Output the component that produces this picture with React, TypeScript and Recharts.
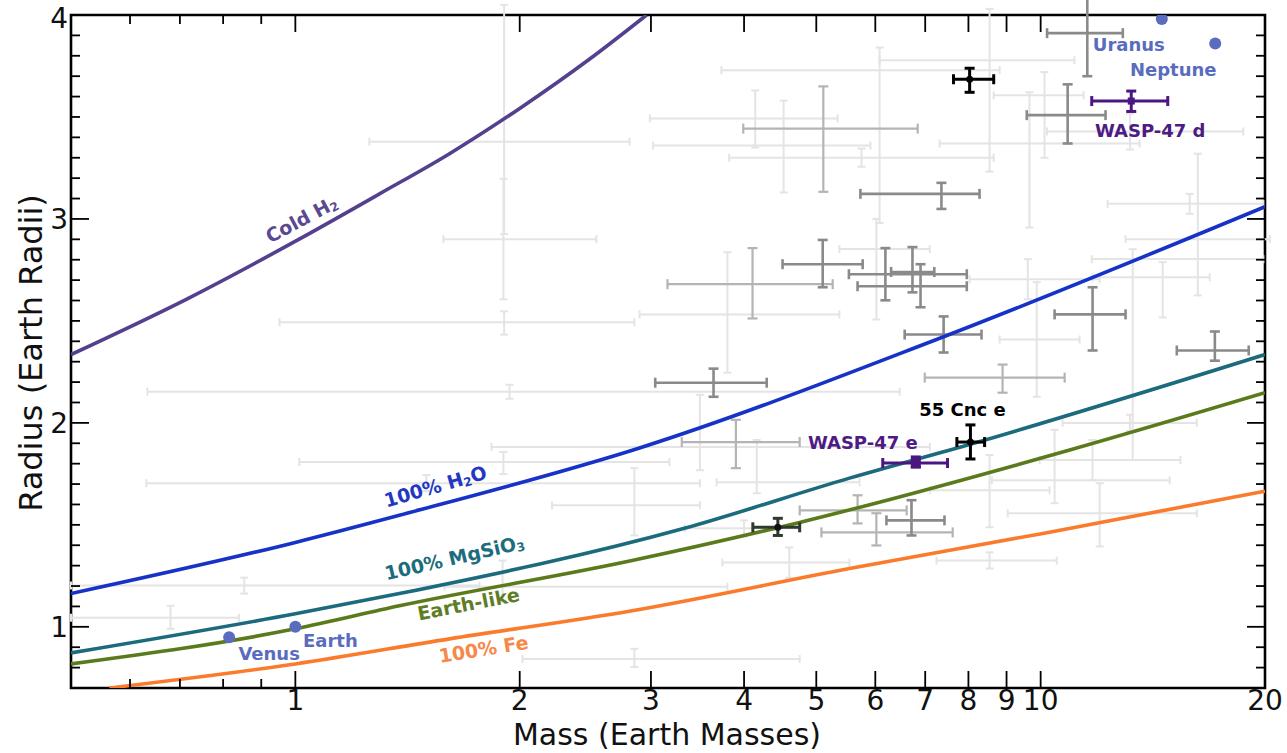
import React from 'react';
import { ComposedChart, Line, Scatter, ErrorBar, XAxis, YAxis, ReferenceArea } from 'recharts';

const W = 1287;
const H = 753;
const PLOT = { left: 71, top: 15, right: 1265, bottom: 688 };
const FONT = '"DejaVu Sans", sans-serif';

// axis ticks
const xLabelTicks = [1, 2, 3, 4, 5, 6, 7, 8, 9, 10, 20];
const xMinorTicks = [0.6, 0.7, 0.8, 0.9];
const yLabelTicks = [1, 2, 3, 4];
const yMinorTicks = [0.8, 0.9, 1.1, 1.2, 1.3, 1.4, 1.5, 1.6, 1.7, 1.8, 1.9, 2.1, 2.2, 2.3, 2.4, 2.5, 2.6, 2.7, 2.8, 2.9, 3.1, 3.2, 3.3, 3.4, 3.5, 3.6, 3.7, 3.8, 3.9];

// composition curves, mass (Earth masses) vs radius (Earth radii)
const coldH2Mass = [0.5, 0.714, 1.012, 1.297, 1.61, 2.0, 2.48, 2.96];
const coldH2Radius = [2.335, 2.606, 2.901, 3.123, 3.32, 3.542, 3.783, 4.0];
const waterMass = [0.5, 1.0, 1.379, 2.896, 7.25, 20];
const waterRadius = [1.163, 1.414, 1.547, 1.877, 2.409, 3.06];
const silicateMass = [0.5, 1.0, 1.379, 3.327, 5.54, 8.13, 20];
const silicateRadius = [0.872, 1.064, 1.163, 1.483, 1.729, 1.9, 2.335];
const earthLikeMass = [0.5, 1.0, 1.379, 2.83, 4.748, 10.94, 20];
const earthLikeRadius = [0.818, 0.99, 1.103, 1.325, 1.512, 1.867, 2.148];
const ironMass = [0.563, 1.0, 1.61, 2.83, 5.54, 10.07, 20];
const ironRadius = [0.7, 0.818, 0.941, 1.079, 1.286, 1.458, 1.665];

// background planets, faint
const faintMass = [1.902, 1.906, 1.906, 1.938, 3.49, 1.902, 2.85, 4.6, 0.68, 1.897, 1.499, 0.854, 2.85, 4.14, 4.52, 6.08, 8.54, 9.66, 14.58, 16.25, 15.85, 13.29, 9.61, 9.88, 13.18, 10.44, 8.54, 12.0, 11.74, 8.54, 3.8, 6.02, 4.16, 4.0, 13.18, 10.12, 5.75];
const faintMassLo = [1.58, 1.257, 0.952, 0.633, 1.833, 1.012, 2.21, 3.74, 0.5, 1.586, 0.631, 0.5, 2.017, 2.99, 3.02, 3.73, 6.08, 7.32, 11.74, 13.0, 12.3, 11.71, 8.03, 8.81, 10.7, 8.6, 7.1, 9.03, 9.97, 7.25, 2.896, 5.37, 3.674, 3.33, 10.2, 8.65, 3.82];
const faintMassHi = [2.535, 2.808, 2.85, 6.47, 7.1, 3.177, 3.49, 5.54, 0.84, 3.8, 3.49, 1.766, 4.75, 5.34, 5.91, 8.81, 11.1, 13.58, 16.86, 20.3, 19.9, 19.9, 12.0, 11.28, 16.2, 14.9, 10.28, 16.2, 15.4, 10.51, 5.37, 7.1, 5.715, 4.75, 18.7, 11.42, 8.65];
const faintRadius = [2.901, 3.379, 2.493, 2.153, 1.882, 1.808, 1.596, 1.315, 1.044, 1.197, 1.704, 1.202, 0.842, 3.493, 3.36, 3.729, 3.778, 3.37, 2.714, 2.901, 3.074, 2.803, 2.704, 2.409, 2.0, 1.719, 1.67, 1.557, 1.818, 1.325, 2.532, 2.852, 1.709, 1.483, 3.429, 3.606, 3.3];
const faintRadiusLo = [2.606, 2.926, 2.433, 2.118, 1.768, 1.749, 1.448, 1.241, 0.99, 1.128, 1.665, 1.163, 0.803, 3.35, 3.13, 2.98, 3.232, 2.958, 2.517, 2.625, 3.025, 1.818, 2.606, 2.128, 1.96, 1.606, 1.488, 1.394, 1.719, 1.286, 2.246, 2.507, 1.655, 1.443, 3.34, 3.3, 3.256];
const faintRadiusHi = [3.197, 4.05, 2.547, 2.187, 2.138, 1.857, 1.778, 1.389, 1.103, 1.325, 1.744, 1.241, 0.892, 3.63, 3.58, 3.84, 4.03, 3.621, 2.788, 3.32, 3.123, 2.852, 2.803, 2.69, 2.04, 1.966, 1.842, 1.704, 1.916, 1.365, 2.837, 3.0, 1.916, 1.522, 3.517, 3.72, 3.345];

// background planets, light grey
const lightMass = [5.11, 4.106, 8.89, 5.68, 6.02, 3.9];
const lightMassLo = [3.99, 3.157, 6.99, 4.75, 5.08, 3.3];
const lightMassHi = [6.84, 5.26, 10.77, 6.61, 7.62, 4.75];
const lightRadius = [3.443, 2.68, 2.222, 1.571, 1.463, 1.906];
const lightRadiusLo = [3.133, 2.512, 2.148, 1.507, 1.399, 1.778];
const lightRadiusHi = [3.65, 2.857, 2.286, 1.645, 1.557, 2.015];

// well measured planets, mid grey
const midMass = [11.55, 10.87, 7.36, 5.1, 6.19, 6.73, 6.9, 7.41, 3.64, 11.74, 17.13, 6.71];
const midMassLo = [10.2, 9.58, 5.73, 4.505, 5.53, 6.3, 5.68, 6.57, 3.04, 10.44, 15.23, 6.21];
const midMassHi = [12.89, 12.22, 8.28, 5.77, 7.96, 7.2, 7.96, 8.33, 4.29, 13.0, 19.02, 7.43];
const midRadius = [3.911, 3.509, 3.123, 2.778, 2.729, 2.74, 2.67, 2.433, 2.197, 2.532, 2.355, 1.522];
const midRadiusLo = [3.7, 3.37, 3.049, 2.665, 2.601, 2.64, 2.567, 2.345, 2.128, 2.355, 2.305, 1.448];
const midRadiusHi = [4.1, 3.66, 3.177, 2.897, 2.857, 2.862, 2.778, 2.522, 2.266, 2.665, 2.448, 1.621];

// highlighted planets
const darkMass = [4.44];
const darkMassLo = [4.11];
const darkMassHi = [4.75];
const darkRadius = [1.488];
const darkRadiusLo = [1.448];
const darkRadiusHi = [1.532];

const blackNames = ['', '55 Cnc e'];
const blackMass = [8.03, 8.05];
const blackMassLo = [7.64, 7.72];
const blackMassHi = [8.65, 8.41];
const blackRadius = [3.685, 1.906];
const blackRadiusLo = [3.621, 1.823];
const blackRadiusHi = [3.739, 1.99];

const waspNames = ['WASP-47 d', 'WASP-47 e'];
const waspMass = [13.23, 6.8];
const waspMassLo = [11.71, 6.14];
const waspMassHi = [14.81, 7.5];
const waspRadius = [3.578, 1.803];
const waspRadiusLo = [3.527, 1.783];
const waspRadiusHi = [3.627, 1.833];

// solar system
const solarNames = ['Venus', 'Earth', 'Uranus', 'Neptune'];
const solarMass = [0.815, 1.0, 14.54, 17.15];
const solarRadius = [0.949, 1.0, 3.98, 3.86];

// curve labels, anchored in data space
const curveLabelNames = ['Cold H2', '100% H2O', '100% MgSiO3', 'Earth-like', '100% Fe'];
const curveLabelMass = [1.019, 1.541, 1.635, 1.707, 1.788];
const curveLabelRadius = [3.0, 1.69, 1.34, 1.113, 0.892];

const curveLabelStyle: Record<string, { parts: [string, string, string]; angle: number; color: string }> = {
  'Cold H2': { parts: ['Cold H', '2', ''], angle: -28, color: '#5a4893' },
  '100% H2O': { parts: ['100% H', '2', 'O'], angle: -16, color: '#2238c2' },
  '100% MgSiO3': { parts: ['100% MgSiO', '3', ''], angle: -13, color: '#1d6c7e' },
  'Earth-like': { parts: ['Earth-like', '', ''], angle: -11, color: '#5e7d25' },
  '100% Fe': { parts: ['100% Fe', '', ''], angle: -9, color: '#f7884a' },
};

const labelOffset: Record<string, [number, number]> = {
  Venus: [40, 16],
  Earth: [35, 14],
  Uranus: [-33, 25],
  Neptune: [-42, 26],
  '55 Cnc e': [-8, -33],
  'WASP-47 e': [-53, -21],
  'WASP-47 d': [19, 29],
};

const toRows = (mass: number[], lo: number[], hi: number[], radius: number[], rLo: number[], rHi: number[], names?: string[]) =>
  mass.map((m, i) => ({
    m,
    r: radius[i],
    ex: [m - lo[i], hi[i] - m],
    ey: [radius[i] - rLo[i], rHi[i] - radius[i]],
    name: names ? names[i] : '',
  }));

const toCurve = (mass: number[], radius: number[]) => mass.map((m, i) => ({ m, r: radius[i] }));

const faintRows = toRows(faintMass, faintMassLo, faintMassHi, faintRadius, faintRadiusLo, faintRadiusHi);
const lightRows = toRows(lightMass, lightMassLo, lightMassHi, lightRadius, lightRadiusLo, lightRadiusHi);
const midRows = toRows(midMass, midMassLo, midMassHi, midRadius, midRadiusLo, midRadiusHi);
const darkRows = toRows(darkMass, darkMassLo, darkMassHi, darkRadius, darkRadiusLo, darkRadiusHi);
const blackRows = toRows(blackMass, blackMassLo, blackMassHi, blackRadius, blackRadiusLo, blackRadiusHi, blackNames);
const waspRows = toRows(waspMass, waspMassLo, waspMassHi, waspRadius, waspRadiusLo, waspRadiusHi, waspNames);
const solarRows = solarMass.map((m, i) => ({ m, r: solarRadius[i], name: solarNames[i] }));
const curveLabelRows = curveLabelNames.map((name, i) => ({ m: curveLabelMass[i], r: curveLabelRadius[i], name }));

const curves = [
  { key: 'coldH2', data: toCurve(coldH2Mass, coldH2Radius), color: '#54408e' },
  { key: 'water', data: toCurve(waterMass, waterRadius), color: '#1733c7' },
  { key: 'silicate', data: toCurve(silicateMass, silicateRadius), color: '#1b6b7d' },
  { key: 'earthLike', data: toCurve(earthLikeMass, earthLikeRadius), color: '#5b7a1c' },
  { key: 'iron', data: toCurve(ironMass, ironRadius), color: '#fa7b2c' },
];

const XTick = (props: any) => {
  const { x, payload } = props;
  const v = payload.value;
  const labelled = xLabelTicks.includes(v);
  const len = labelled ? 17 : 9;
  return (
    <g>
      <line x1={x} x2={x} y1={PLOT.bottom} y2={PLOT.bottom - len} stroke="#000" strokeWidth={1.8} />
      <line x1={x} x2={x} y1={PLOT.top} y2={PLOT.top + len} stroke="#000" strokeWidth={1.8} />
      {labelled && (
        <text x={x} y={PLOT.bottom + 22} textAnchor="middle" fontSize={28} fontFamily={FONT} fill="#111">
          {v}
        </text>
      )}
    </g>
  );
};

const YTick = (props: any) => {
  const { y, payload } = props;
  const v = payload.value;
  const labelled = yLabelTicks.includes(v);
  const len = labelled ? 18 : 9;
  // keep the top label inside the page
  const base = Math.max(y + 10, 28);
  return (
    <g>
      <line x1={PLOT.left} x2={PLOT.left + len} y1={y} y2={y} stroke="#000" strokeWidth={1.8} />
      <line x1={PLOT.right} x2={PLOT.right - len} y1={y} y2={y} stroke="#000" strokeWidth={1.8} />
      {labelled && (
        <text x={PLOT.left - 3} y={base} textAnchor="end" fontSize={28} fontFamily={FONT} fill="#111">
          {v}
        </text>
      )}
    </g>
  );
};

const noMarker = () => <g />;

const dotMarker = (props: any) => <circle cx={props.cx} cy={props.cy} r={3.5} fill="#111" />;

const PlanetLabel = ({ cx, cy, name, color }: any) => {
  const off = labelOffset[name];
  if (!off) return null;
  return (
    <text x={cx + off[0]} y={cy + off[1]} textAnchor="middle" dominantBaseline="central" fontSize={18} fontWeight="bold" fontFamily={FONT} fill={color}>
      {name}
    </text>
  );
};

const blackMarker = (props: any) => (
  <g>
    <circle cx={props.cx} cy={props.cy} r={3.5} fill="#000" />
    <PlanetLabel cx={props.cx} cy={props.cy} name={props.payload.name} color="#000" />
  </g>
);

const waspMarker = (props: any) => {
  const s = props.payload.name === 'WASP-47 e' ? 5 : 3.5;
  return (
    <g>
      <rect x={props.cx - s} y={props.cy - s} width={2 * s} height={2 * s} fill="#4b1680" />
      <PlanetLabel cx={props.cx} cy={props.cy} name={props.payload.name} color="#4d1b82" />
    </g>
  );
};

const solarMarker = (props: any) => (
  <g>
    <circle cx={props.cx} cy={props.cy} r={6} fill="#5a6cbe" />
    <PlanetLabel cx={props.cx} cy={props.cy} name={props.payload.name} color="#5a6cbe" />
  </g>
);

const curveLabelMarker = (props: any) => {
  const s = curveLabelStyle[props.payload.name];
  return (
    <text
      transform={`translate(${props.cx},${props.cy}) rotate(${s.angle})`}
      textAnchor="middle"
      dominantBaseline="central"
      fontSize={19}
      fontWeight="bold"
      fontFamily={FONT}
      fill={s.color}
    >
      {s.parts[0]}
      {s.parts[1] && (
        <tspan fontSize={12} dy={5}>
          {s.parts[1]}
        </tspan>
      )}
      {s.parts[2] && <tspan dy={-5}>{s.parts[2]}</tspan>}
    </text>
  );
};

const bars = (color: string, sw: number, cap: number) => [
  <ErrorBar key="x" dataKey="ex" direction="x" stroke={color} strokeWidth={sw} width={cap} isAnimationActive={false} />,
  <ErrorBar key="y" dataKey="ey" direction="y" stroke={color} strokeWidth={sw} width={cap} isAnimationActive={false} />,
];

export default function App() {
  const xTicks = [...xMinorTicks, ...xLabelTicks];
  const yTicks = [...yMinorTicks, ...yLabelTicks];
  return (
    <div style={{ position: 'relative', width: W, height: H, background: '#fff' }}>
      <style>{'body{margin:0}'}</style>
      <ComposedChart width={W} height={H} margin={{ top: PLOT.top, right: W - PLOT.right, left: 0, bottom: 0 }}>
        <XAxis
          dataKey="m"
          type="number"
          scale="log"
          domain={[0.5, 20]}
          allowDataOverflow
          ticks={xTicks}
          interval={0}
          tick={(p: any) => <XTick {...p} />}
          tickLine={false}
          axisLine={false}
          height={H - PLOT.bottom}
        />
        <YAxis
          dataKey="r"
          type="number"
          domain={[0.7, 4]}
          allowDataOverflow
          ticks={yTicks}
          interval={0}
          tick={(p: any) => <YTick {...p} />}
          tickLine={false}
          axisLine={false}
          width={PLOT.left}
        />
        <Scatter data={faintRows} shape={noMarker} isAnimationActive={false}>
          {bars('#e4e4e4', 2, 4)}
        </Scatter>
        <Scatter data={lightRows} shape={noMarker} isAnimationActive={false}>
          {bars('#b4b4b4', 2.2, 5)}
        </Scatter>
        <Scatter data={midRows} shape={noMarker} isAnimationActive={false}>
          {bars('#8a8a8a', 2.6, 5)}
        </Scatter>
        {curves.map((c) => (
          <Line
            key={c.key}
            data={c.data}
            dataKey="r"
            type="monotone"
            stroke={c.color}
            strokeWidth={3.6}
            dot={false}
            activeDot={false}
            isAnimationActive={false}
          />
        ))}
        <Scatter data={darkRows} shape={dotMarker} isAnimationActive={false}>
          {bars('#2e3a2e', 3, 5)}
        </Scatter>
        <Scatter data={blackRows} shape={blackMarker} isAnimationActive={false}>
          {bars('#000', 3, 5)}
        </Scatter>
        <Scatter data={waspRows} shape={waspMarker} isAnimationActive={false}>
          {bars('#4b1680', 3, 5)}
        </Scatter>
        <Scatter data={solarRows} shape={solarMarker} isAnimationActive={false} />
        <Scatter data={curveLabelRows} shape={curveLabelMarker} isAnimationActive={false} />
        <ReferenceArea x1={0.5} x2={20} y1={0.7} y2={4} fill="none" stroke="#000" strokeWidth={2.6} ifOverflow="visible" />
      </ComposedChart>
      <svg width={W} height={H} style={{ position: 'absolute', left: 0, top: 0, pointerEvents: 'none' }}>
        <text x={667} y={745} textAnchor="middle" fontSize={30} fontFamily={FONT} fill="#111">
          Mass (Earth Masses)
        </text>
        <text transform="translate(42,353) rotate(-90)" textAnchor="middle" fontSize={32} fontFamily={FONT} fill="#111">
          Radius (Earth Radii)
        </text>
      </svg>
    </div>
  );
}
